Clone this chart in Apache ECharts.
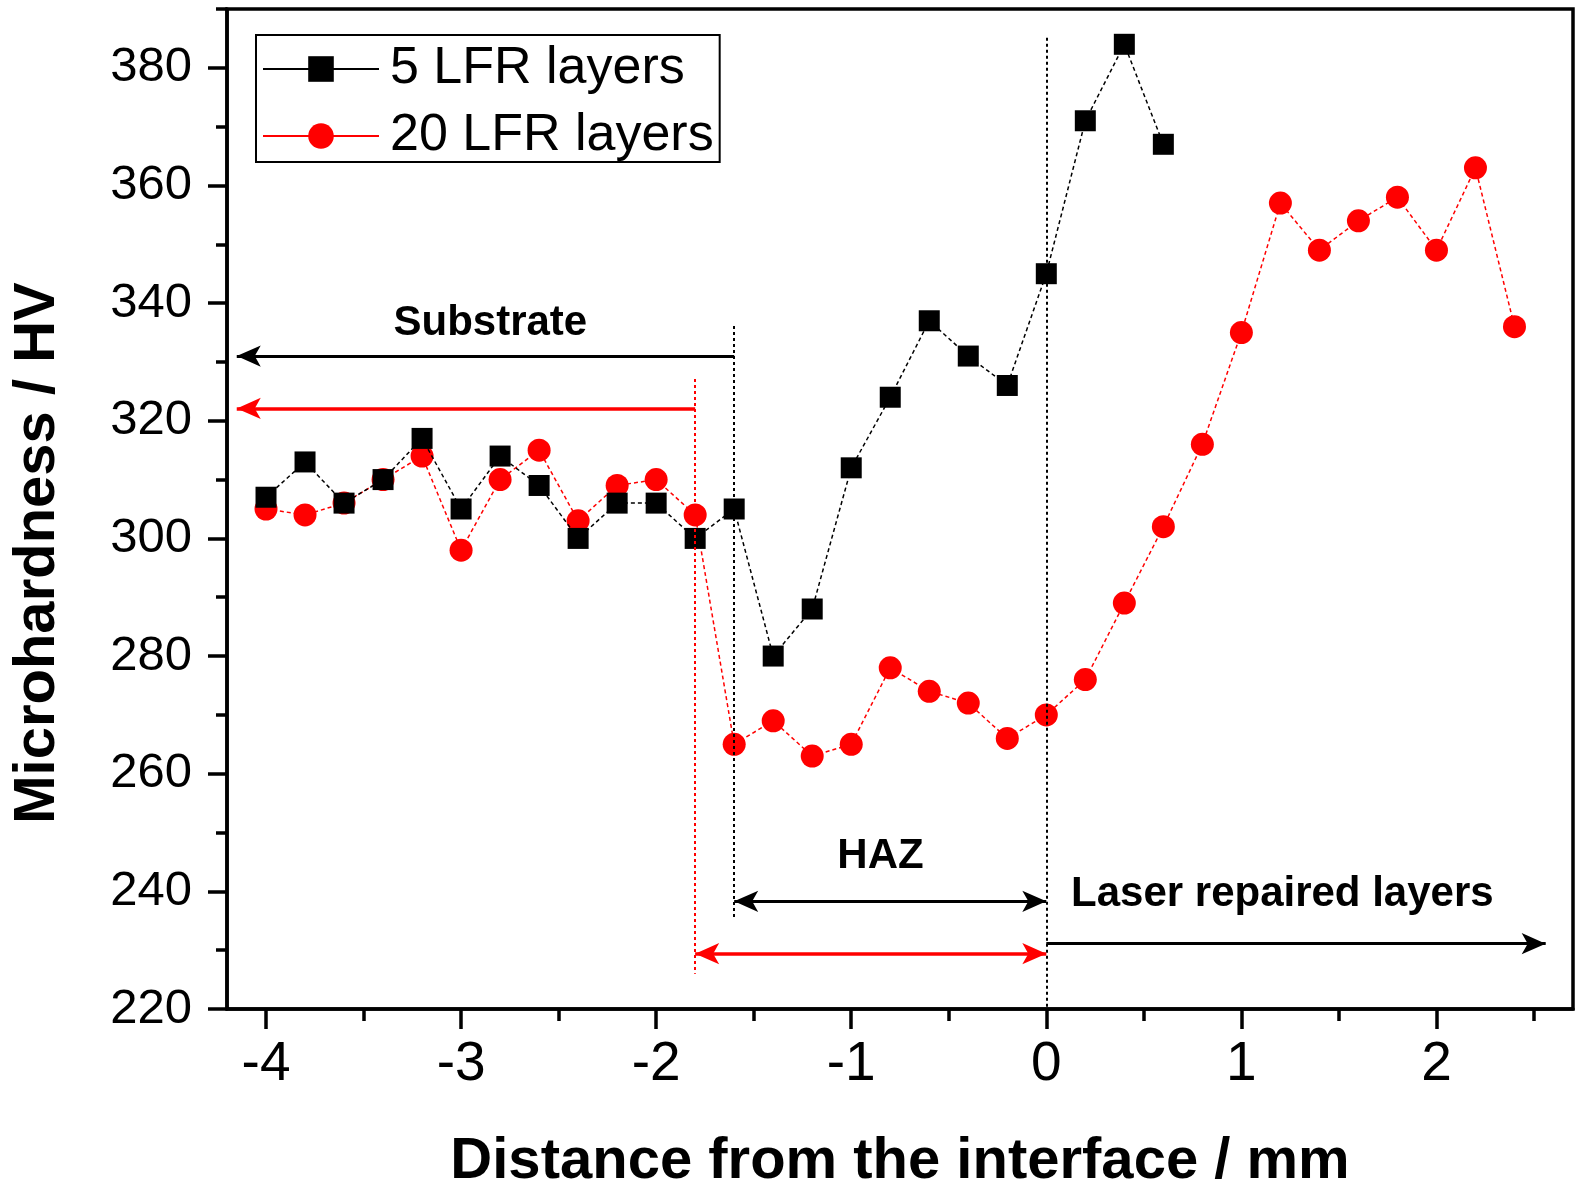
<!DOCTYPE html>
<html><head><meta charset="utf-8">
<script src="https://cdn.jsdelivr.net/npm/echarts@6/dist/echarts.min.js"></script>
<style>html,body{margin:0;padding:0;background:#fff}#c{width:1584px;height:1188px}</style>
</head><body><div id="c"></div>
<script>
const seriesNames = ['5 LFR layers', '20 LFR layers'];
const x5 = [-4,-3.8,-3.6,-3.4,-3.2,-3.0,-2.8,-2.6,-2.4,-2.2,-2.0,-1.8,-1.6,-1.4,-1.2,-1.0,-0.8,-0.6,-0.4,-0.2,0,0.2,0.4,0.6];
const y5 = [307,313,306,310,317,305,314,309,300,306,306,300,305,280,288,312,324,337,331,326,345,371,384,367];
const x20 = [-4,-3.8,-3.6,-3.4,-3.2,-3.0,-2.8,-2.6,-2.4,-2.2,-2.0,-1.8,-1.6,-1.4,-1.2,-1.0,-0.8,-0.6,-0.4,-0.2,0,0.2,0.4,0.6,0.8,1.0,1.2,1.4,1.6,1.8,2.0,2.2,2.4];
const y20 = [305,304,306,310,314,298,310,315,303,309,310,304,265,269,263,265,278,274,272,266,270,276,289,302,316,335,357,349,354,358,349,363,336];
const xTicks = [-4,-3,-2,-1,0,1,2];
const xMinorTicks = [-3.5,-2.5,-1.5,-0.5,0.5,1.5,2.5];
const yTicks = [220,240,260,280,300,320,340,360,380];
const yMinorTicks = [230,250,270,290,310,330,350,370,390];
const annotTexts = ['Substrate','HAZ','Laser repaired layers'];

const X_MIN = -4.2, X_MAX = 2.7, Y_MIN = 220, Y_MAX = 390;
const annotTextPos = [[-2.85,336.5],[-0.85,246],[1.21,239.5]];

const dotBlack = {color:'#000', width:2, type:[3,3]};
const dotRed = {color:'#ff0000', width:2, type:[3,3]};
const arrowBlack = {color:'#000', width:3, type:'solid'};
const arrowRed = {color:'#ff0000', width:3.5, type:'solid'};

function seg(a, b, style, s1, s2) {
  return [{coord:a, symbol:s1, lineStyle:style}, {coord:b, symbol:s2}];
}

const markLines = [
  seg([-1.6,336.1],[-1.6,235.4],dotBlack,'none','none'),
  seg([-1.8,327.1],[-1.8,226.0],dotRed,'none','none'),
  seg([0,385.1],[0,220],dotBlack,'none','none'),
  seg([-1.6,331.0],[-4.15,331.0],arrowBlack,'none','arrow'),
  seg([-1.8,322.1],[-4.15,322.1],arrowRed,'none','arrow'),
  seg([-1.6,238.3],[0,238.3],arrowBlack,'arrow','arrow'),
  seg([-1.8,229.4],[0,229.4],arrowRed,'arrow','arrow'),
  seg([0,231.1],[2.56,231.1],arrowBlack,'none','arrow')
];

const chart = echarts.init(document.getElementById('c'), null, {renderer:'canvas'});
chart.setOption({
  animation:false,
  backgroundColor:'#fff',
  grid:{left:227, right:11, top:9, bottom:179, show:true, borderColor:'#000', borderWidth:3.5, backgroundColor:'transparent', containLabel:false, outerBoundsMode:'none'},
  legend:{
    data:seriesNames, orient:'vertical', left:256, top:35,
    borderColor:'#000', borderWidth:2, padding:[8,6,0,6], itemGap:15,
    itemWidth:116, itemHeight:32,
    lineStyle:{type:'solid', width:2},
    textStyle:{fontFamily:'Liberation Sans', fontSize:52, color:'#000', padding:[0,0,0,6]}
  },
  xAxis:[{
    type:'value', min:X_MIN, max:X_MAX,
    name:'Distance from the interface / mm', nameLocation:'middle', nameGap:124,
    nameTextStyle:{fontFamily:'Liberation Sans', fontWeight:'bold', fontSize:58, color:'#000'},
    axisLine:{show:true, onZero:false, lineStyle:{color:'#000', width:3.5}},
    axisTick:{show:true, inside:false, length:20, lineStyle:{width:3.5, color:'#000'}, customValues:xTicks},
    axisLabel:{show:true, customValues:xTicks, margin:28, fontSize:55, fontFamily:'Liberation Sans', color:'#000'},
    splitLine:{show:false}
  },{
    type:'value', min:X_MIN, max:X_MAX, position:'bottom',
    axisLine:{show:false, onZero:false},
    axisTick:{show:true, inside:false, length:12, lineStyle:{width:3.5, color:'#000'}, customValues:xMinorTicks},
    axisLabel:{show:false}, splitLine:{show:false}
  }],
  yAxis:[{
    type:'value', min:Y_MIN, max:Y_MAX,
    name:'Microhardness / HV', nameLocation:'middle', nameGap:160,
    nameTextStyle:{fontFamily:'Liberation Sans', fontWeight:'bold', fontSize:58, color:'#000', padding:[0,88,0,0]},
    axisLine:{show:true, onZero:false, lineStyle:{color:'#000', width:3.5}},
    axisTick:{show:true, inside:false, length:19, lineStyle:{width:3.5, color:'#000'}, customValues:yTicks},
    axisLabel:{show:true, customValues:yTicks, margin:35, fontSize:49, fontFamily:'Liberation Sans', color:'#000'},
    splitLine:{show:false}
  },{
    type:'value', min:Y_MIN, max:Y_MAX, position:'left',
    axisLine:{show:false, onZero:false},
    axisTick:{show:true, inside:false, length:11, lineStyle:{width:3.5, color:'#000'}, customValues:yMinorTicks},
    axisLabel:{show:false}, splitLine:{show:false}
  }],
  series:[
    {
      name:seriesNames[0], type:'line', xAxisIndex:0, yAxisIndex:0,
      data:x5.map((x,i)=>[x,y5[i]]),
      symbol:'rect', symbolSize:21,
      itemStyle:{color:'#000'},
      lineStyle:{color:'#000', width:1.5, type:[4,3]},
      z:4
    },
    {
      name:seriesNames[1], type:'line', xAxisIndex:0, yAxisIndex:0,
      data:x20.map((x,i)=>[x,y20[i]]),
      symbol:'circle', symbolSize:23,
      itemStyle:{color:'#ff0000'},
      lineStyle:{color:'#ff0000', width:1.5, type:[4,3]},
      z:3
    },
    {
      name:'annotations', type:'scatter', xAxisIndex:0, yAxisIndex:0,
      data:annotTexts.map((t,i)=>({name:t, value:annotTextPos[i]})),
      symbolSize:0, silent:true, itemStyle:{color:'rgba(0,0,0,0)', opacity:1},
      label:{show:true, position:[0,0], align:'center', verticalAlign:'middle', formatter:p=>p.name, fontFamily:'Liberation Sans', fontWeight:'bold', fontSize:42, color:'#000', opacity:1, textBorderWidth:0},
      markLine:{silent:true, symbolSize:[16,24], label:{show:false}, data:markLines, animation:false},
      z:2
    }
  ]
});
</script></body></html>
